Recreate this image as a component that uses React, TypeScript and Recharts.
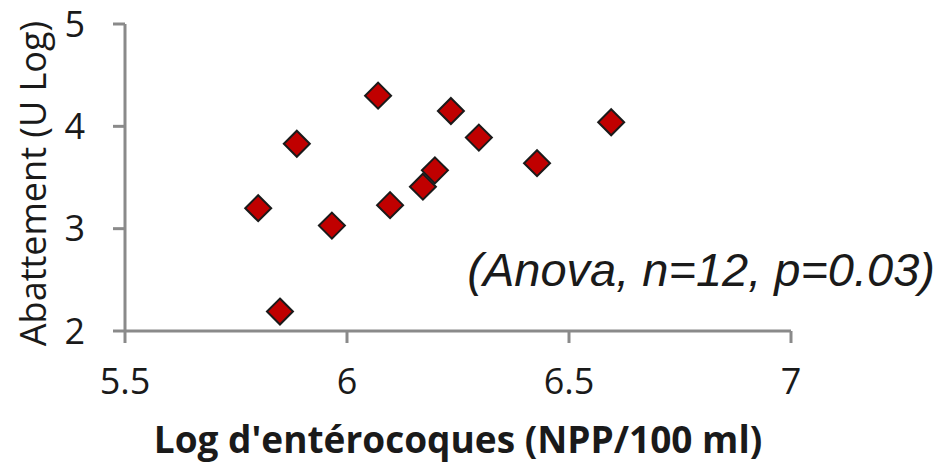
import React from "react";
import { ScatterChart, Scatter, XAxis, YAxis, Label } from "recharts";

const xValues = [5.8, 5.849, 5.887, 5.966, 6.07, 6.097, 6.171, 6.198, 6.234, 6.297, 6.428, 6.595];
const yValues = [3.2, 2.19, 3.83, 3.03, 4.3, 3.23, 3.41, 3.57, 4.15, 3.89, 3.64, 4.04];
const xTicks = [5.5, 6, 6.5, 7];
const yTicks = [2, 3, 4, 5];

const data = xValues.map((x, i) => ({ x, y: yValues[i] }));

const AXIS = "#8a8a8a";
const FONT = "'Open Sans', sans-serif";

const Diamond = (props: any) => {
  const { cx, cy } = props;
  const r = 13;
  return (
    <polygon
      points={`${cx},${cy - r} ${cx + r},${cy} ${cx},${cy + r} ${cx - r},${cy}`}
      fill="#C00000"
      stroke="#1a1a1a"
      strokeWidth={2}
    />
  );
};

export default function App() {
  return (
    <div style={{ position: "absolute", left: 0, top: 0, background: "#fff" }}>
      <ScatterChart width={943} height={468} margin={{ top: 24, right: 152, bottom: 77, left: 5 }}>
        <XAxis
          type="number"
          dataKey="x"
          domain={[5.5, 7]}
          ticks={xTicks}
          tickFormatter={(v: number) => String(v)}
          stroke={AXIS}
          strokeWidth={3}
          tickSize={12}
          tick={{ fill: "#1a1a1a", fontSize: 36, fontFamily: FONT }}
          tickMargin={25}
          height={60}
        >
          <Label
            value="Log d'entérocoques (NPP/100 ml)"
            position="insideBottom"
            offset={-62}
            style={{ fill: "#1a1a1a", fontSize: 37, fontWeight: 700, fontFamily: FONT }}
          />
        </XAxis>
        <YAxis
          type="number"
          dataKey="y"
          domain={[2, 5]}
          ticks={yTicks}
          stroke={AXIS}
          strokeWidth={3}
          tickSize={12}
          tickMargin={28}
          tick={{ fill: "#1a1a1a", fontSize: 36, fontFamily: FONT }}
          width={120}
        >
          <Label
            value="Abattement (U Log)"
            angle={-90}
            position="insideLeft"
            offset={28}
            dy={6}
            style={{ fill: "#1a1a1a", fontSize: 36, fontFamily: FONT, textAnchor: "middle" }}
          />
        </YAxis>
        <Scatter data={data} shape={Diamond} isAnimationActive={false} />
        <text
          x={935}
          y={286}
          textAnchor="end"
          style={{ fontSize: 47, fontStyle: "italic", fontFamily: "'Liberation Sans', Arial, sans-serif", fill: "#1a1a1a" }}
        >
          (Anova, n=12, p=0.03)
        </text>
      </ScatterChart>
    </div>
  );
}
